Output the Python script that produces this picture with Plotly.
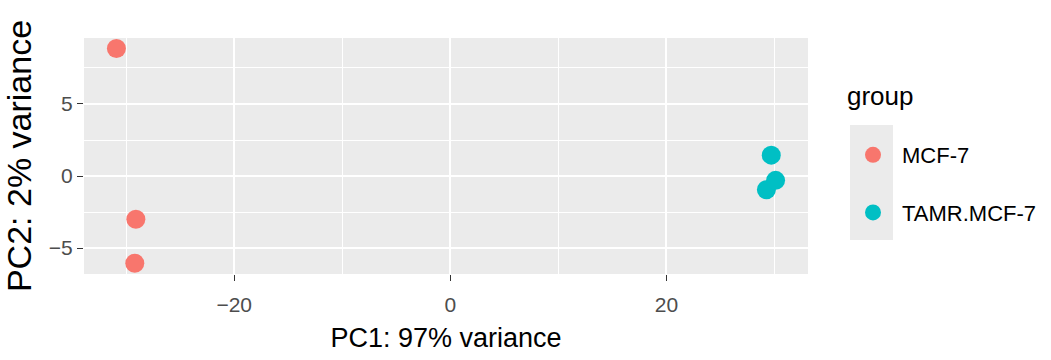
import plotly.graph_objects as go

# PCA scores per sample
groups = ["MCF-7", "TAMR.MCF-7"]
pc1_mcf7 = [-30.9, -29.1, -29.2]
pc2_mcf7 = [8.85, -3.0, -6.05]
pc1_tamr = [29.7, 29.25, 30.1]
pc2_tamr = [1.45, -0.95, -0.3]
colors = ["#F8766D", "#00BFC4"]

x_ticks = [-20, 0, 20]
y_ticks = [-5, 0, 5]

font_family = "Liberation Sans, Arial, sans-serif"

# plot panel in pixels (left, right, top, bottom)
W, H = 1051, 360
PL, PR, PT, PB = 84, 808, 38, 274
pw, ph = PR - PL, PB - PT


def px_x(v):
    return (v - PL) / pw


def px_y(v):
    return (PB - v) / ph


fig = go.Figure()
for name, xs, ys, col in zip(groups, [pc1_mcf7, pc1_tamr], [pc2_mcf7, pc2_tamr], colors):
    fig.add_trace(go.Scatter(
        x=xs, y=ys, mode="markers", name=name, legendgroup=name,
        marker=dict(size=19, color=col, line=dict(width=0)),
    ))

fig.update_layout(
    width=W, height=H,
    margin=dict(l=PL, r=W - PR, t=PT, b=H - PB, autoexpand=False),
    paper_bgcolor="white",
    plot_bgcolor="#EBEBEB",
    font=dict(family=font_family, color="black"),
    showlegend=True,
    legend=dict(
        font=dict(size=22, color="black"),
        x=px_x(844), xanchor="left",
        y=px_y(134), yanchor="top",
        bgcolor="rgba(0,0,0,0)",
        tracegroupgap=26,
        itemsizing="trace",
        itemwidth=48,
        indentation=0,
    ),
)

fig.update_xaxes(
    range=[-33.9, 33.1],
    tickvals=x_ticks,
    ticks="outside", ticklen=6, tickcolor="#333333", tickwidth=1.2,
    tickfont=dict(size=21, color="#4D4D4D"),
    ticklabelstandoff=6,
    showgrid=True, gridcolor="white", gridwidth=1.6,
    minor=dict(dtick=10, tick0=0, showgrid=True, gridcolor="white", gridwidth=0.8, ticks=""),
    zeroline=False, showline=False,
    title=dict(text="PC1: 97% variance", font=dict(size=27, color="black"), standoff=12),
)
fig.update_yaxes(
    range=[-6.8, 9.58],
    tickvals=y_ticks,
    ticks="outside", ticklen=6, tickcolor="#333333", tickwidth=1.2,
    tickfont=dict(size=21, color="#4D4D4D"),
    showgrid=True, gridcolor="white", gridwidth=1.6,
    minor=dict(dtick=2.5, tick0=0, showgrid=True, gridcolor="white", gridwidth=0.8, ticks=""),
    zeroline=False, showline=False,
    title=dict(text="PC2: 2% variance", font=dict(size=34, color="black"), standoff=6),
)

# legend heading
fig.add_annotation(
    text="group", xref="paper", yref="paper",
    x=px_x(845), y=px_y(96), xanchor="left", yanchor="middle",
    showarrow=False, font=dict(size=26, color="black"),
)

# grey panel behind the legend keys
fig.add_shape(
    type="rect", xref="paper", yref="paper",
    x0=px_x(850), x1=px_x(893),
    y0=px_y(240), y1=px_y(125),
    fillcolor="#EBEBEB", line=dict(width=0), layer="below",
)

fig.write_html("out.html")
